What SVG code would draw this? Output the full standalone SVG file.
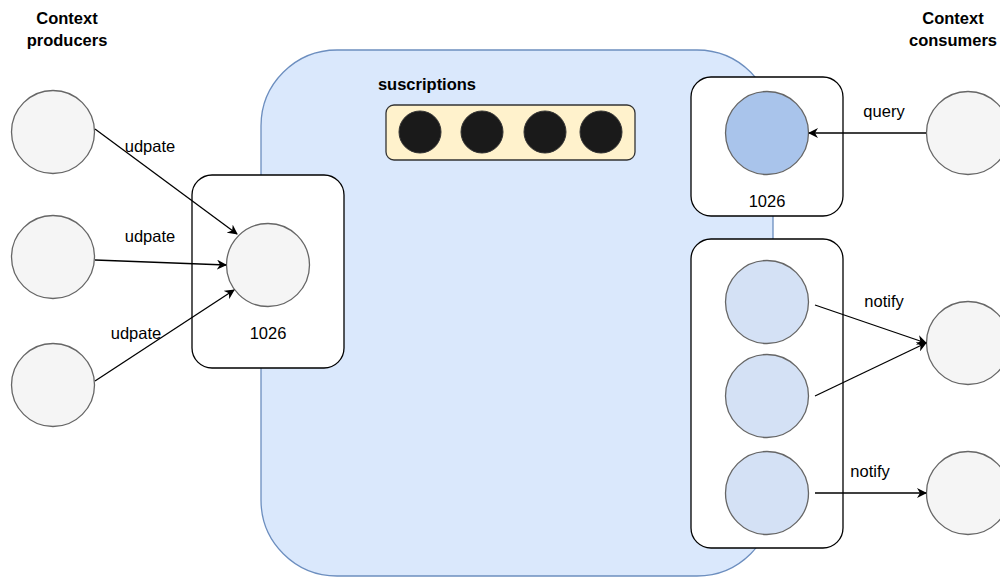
<svg xmlns="http://www.w3.org/2000/svg" width="1000" height="577" viewBox="0 0 1000 577">
<defs>
<style>
text{font-family:"Liberation Sans",Arial,sans-serif;font-size:16.5px;fill:#000}
.b{font-weight:bold}
.m{text-anchor:middle}
.box{fill:#fff;stroke:#000;stroke-width:1.3}
.c{fill:#f5f5f5;stroke:#666;stroke-width:1.3}
.cb{fill:#d4e1f5;stroke:#666;stroke-width:1.3}
.dot{fill:#1a1a1a;stroke:#333;stroke-width:1}
.e{fill:none;stroke:#000;stroke-width:1.3;marker-end:url(#ah)}
</style>
<marker id="ah" viewBox="0 0 10 10" refX="9" refY="5" markerWidth="10" markerHeight="10" markerUnits="userSpaceOnUse" orient="auto"><path d="M0,0 L10,5 L0,10 L3,5 Z" fill="#000"/></marker>
</defs>
<rect width="1000" height="577" fill="#fff"/>
<g id="store"><rect x="261" y="50" width="512" height="526" rx="76" ry="76" fill="#dae8fc" stroke="#6c8ebf" stroke-width="1.3"/></g>
<g id="subscriptions">
<text x="427" y="90" class="b m">suscriptions</text>
<rect x="386" y="105" width="249" height="55" rx="8" fill="#fff2cc" stroke="#333" stroke-width="1.3"/>
<circle class="dot" cx="420" cy="132" r="21"/>
<circle class="dot" cx="482" cy="132" r="21"/>
<circle class="dot" cx="545" cy="132" r="21"/>
<circle class="dot" cx="601" cy="132" r="21"/>
</g>
<g id="titles">
<text x="67" y="24" class="b m">Context</text>
<text x="67" y="46" class="b m">producers</text>
<text x="953" y="24" class="b m">Context</text>
<text x="953" y="46" class="b m">consumers</text>
</g>
<g id="left-box">
<rect class="box" x="192" y="175" width="152" height="193" rx="20"/>
<circle class="c" cx="268" cy="265" r="41.5"/>
<text x="268" y="339" class="m">1026</text>
</g>
<g id="right-top-box">
<rect class="box" x="691" y="77" width="152" height="139" rx="20"/>
<circle cx="767" cy="133" r="41.5" fill="#a9c4eb" stroke="#666" stroke-width="1.3"/>
<text x="767" y="207" class="m">1026</text>
</g>
<g id="right-bottom-box">
<rect class="box" x="691" y="239" width="152" height="309" rx="20"/>
<circle class="cb" cx="767" cy="302" r="41.5"/>
<circle class="cb" cx="767" cy="396" r="41.5"/>
<circle class="cb" cx="767" cy="493" r="41.5"/>
</g>
<g id="producer-1"><circle class="c" cx="53" cy="132" r="41.5"/></g>
<g id="producer-2"><circle class="c" cx="53" cy="257" r="41.5"/></g>
<g id="producer-3"><circle class="c" cx="53" cy="385" r="41.5"/></g>
<g id="consumer-1"><circle class="c" cx="968" cy="133" r="41.5"/></g>
<g id="consumer-2"><circle class="c" cx="968" cy="343" r="41.5"/></g>
<g id="consumer-3"><circle class="c" cx="968" cy="493" r="41.5"/></g>
<g id="connectors">
<path class="e" d="M95,129 L237,234"/>
<path class="e" d="M95,260 L226,265"/>
<path class="e" d="M95,381 L234,290"/>
<path class="e" d="M926,133 L809,133"/>
<path class="e" d="M815,305 L926,343"/>
<path class="e" d="M815,396 L926,343"/>
<path class="e" d="M815,493 L926,493"/>
<text x="150" y="152" class="m">udpate</text>
<text x="150" y="242" class="m">udpate</text>
<text x="136" y="339" class="m">udpate</text>
<text x="884" y="117" class="m">query</text>
<text x="884" y="307" class="m">notify</text>
<text x="870" y="477" class="m">notify</text>
</g>
</svg>
